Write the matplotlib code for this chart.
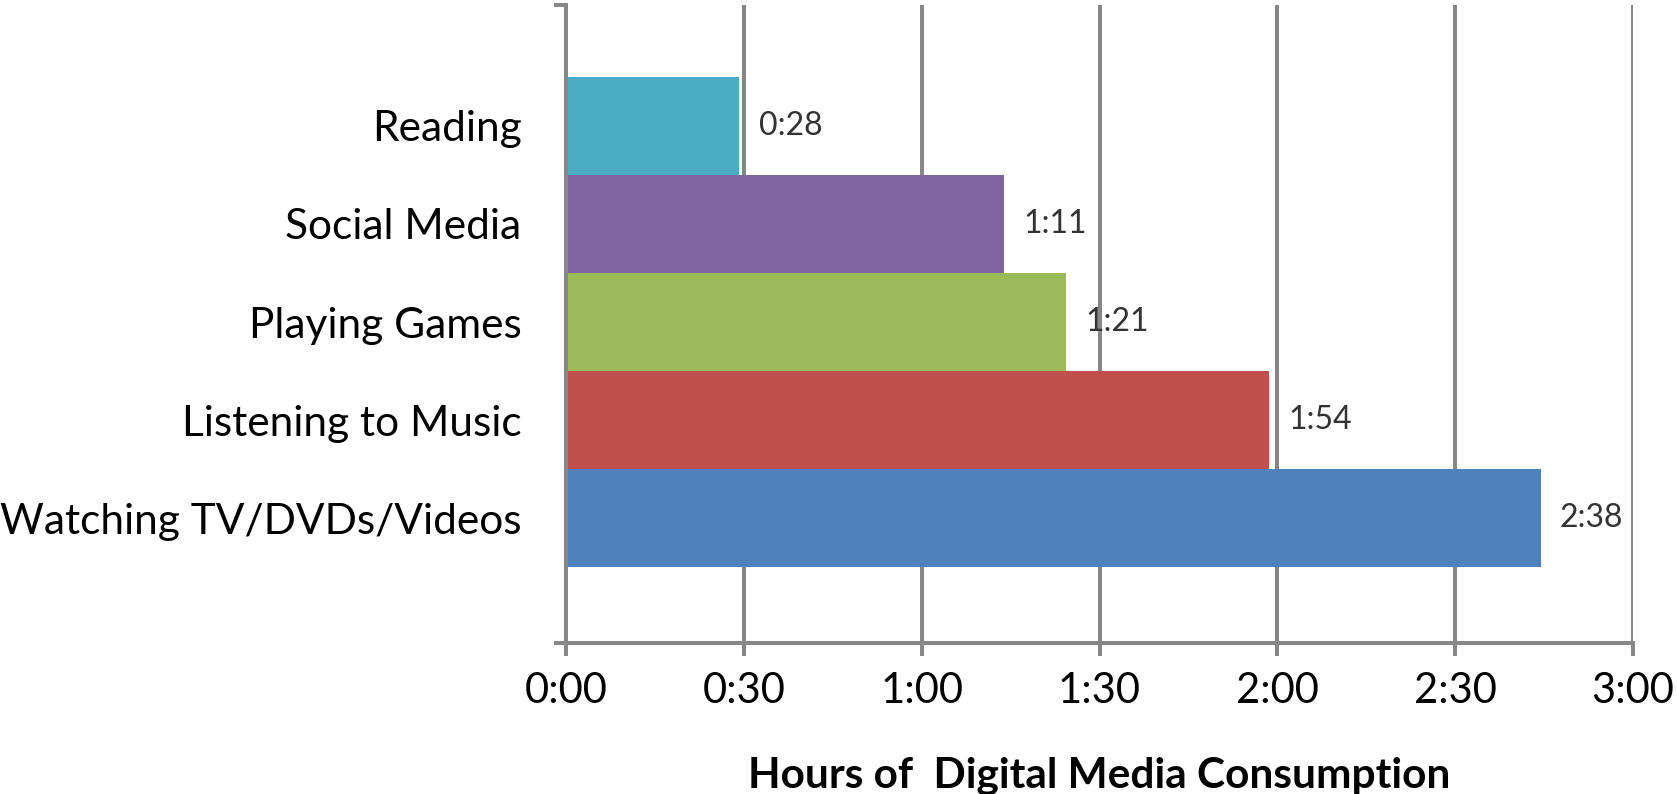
"""
Digital media consumption - horizontal bar chart
"""

import matplotlib
matplotlib.use("Agg")
import matplotlib.pyplot as plt

# categories from bottom to top
categories = ["Watching TV/DVDs/Videos", "Listening to Music", "Playing Games",
              "Social Media", "Reading"]
# bar lengths in minutes (as drawn)
minutes = [164.4, 118.6, 84.4, 73.9, 29.2]
# value labels shown next to the bars
value_labels = ["2:38", "1:54", "1:21", "1:11", "0:28"]
bar_colors = ["#4F81BD", "#C0504D", "#9BBB59", "#8064A2", "#4BACC6"]
tick_minutes = [0, 30, 60, 90, 120, 150, 180]
tick_labels = ["0:00", "0:30", "1:00", "1:30", "2:00", "2:30", "3:00"]

plt.rcParams['font.family'] = ['Lato', 'DejaVu Sans']
GRAY = "#878787"

fig = plt.figure(figsize=(16.77, 7.94), dpi=100)
ax = fig.add_axes([566 / 1677, 1 - 643 / 794, (1633 - 566) / 1677, 638 / 794])

# vertical grid lines behind the bars
for t in tick_minutes[1:]:
    ax.axvline(t, color=GRAY, lw=2.9, zorder=1)

pos = list(range(len(categories)))
bars = ax.barh(pos, minutes, height=1.0, color=bar_colors, zorder=2)

# value labels
for bar, lab in zip(bars, value_labels):
    ax.annotate(lab, (bar.get_width(), bar.get_y() + bar.get_height() / 2),
                xytext=(14, 0), textcoords="offset points",
                ha="left", va="center", fontsize=23, color="#333333")

ax.set_xlim(0, 180)
ax.set_ylim(-1.27, 5.23)

ax.set_xticks(tick_minutes)
ax.set_xticklabels(tick_labels, fontsize=30)
ax.tick_params(axis="x", direction="out", length=9, width=2.9, color=GRAY, pad=12)

ax.set_yticks(pos)
ax.set_yticklabels(categories, fontsize=30.5)
ax.tick_params(axis="y", which="major", length=0, pad=32)
ax.set_yticks([-1.27, 5.23], minor=True)
ax.tick_params(axis="y", which="minor", direction="out", length=9, width=2.9, color=GRAY)

for side in ["top", "right"]:
    ax.spines[side].set_visible(False)
for side in ["left", "bottom"]:
    ax.spines[side].set_color(GRAY)
    ax.spines[side].set_linewidth(2.9)

ax.set_xlabel("Hours of  Digital Media Consumption", fontsize=30.5,
              fontweight="bold", va="baseline")
ax.xaxis.set_label_coords(0.5, -0.226)

fig.savefig("out.png", dpi=100)
